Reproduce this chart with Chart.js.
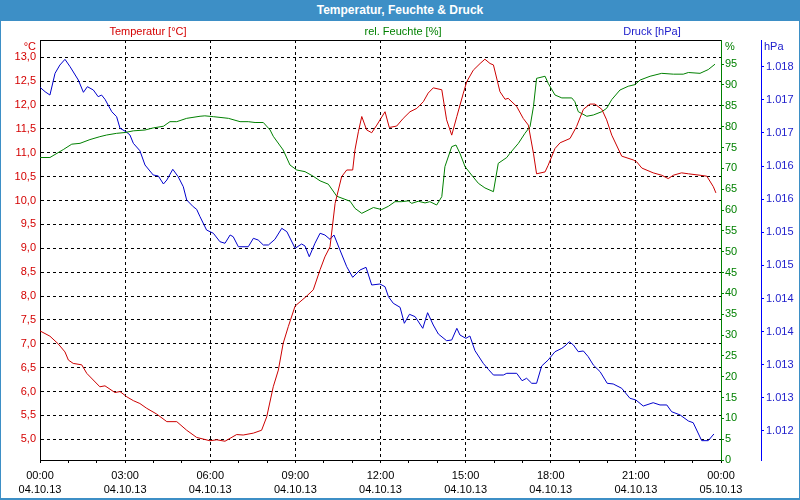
<!DOCTYPE html>
<html>
<head>
<meta charset="utf-8">
<script src="https://cdn.jsdelivr.net/npm/chart.js@4/dist/chart.umd.min.js"></script>
<style>
  body { margin: 0; background: #fff; }
  #wrap { position: relative; width: 800px; height: 500px; overflow: hidden; font-family: "Liberation Sans", Arial, sans-serif; }
  #chart { position: absolute; left: 0; top: 0; }
  #frame { position: absolute; left: 0; top: 0; width: 800px; height: 500px; box-sizing: border-box;
           border: 1px solid #3d8fc6; border-bottom-width: 2px; pointer-events: none; }
  #bar { position: absolute; left: 0; top: 0; width: 800px; height: 21px; background: #3d8fc6;
         color: #fff; font-weight: bold; font-size: 12px; line-height: 21px; text-align: center; }
  .lbl { position: absolute; font-size: 11px; line-height: 13px; white-space: nowrap; }
  .c { transform: translateX(-50%); }
</style>
</head>
<body>
<div id="wrap">
  <canvas id="chart" width="800" height="500"></canvas>
  <div id="bar">Temperatur, Feuchte &amp; Druck</div>
  <div class="lbl c" style="left:148px;top:25px;color:#d40000">Temperatur [°C]</div>
  <div class="lbl c" style="left:403px;top:25px;color:#008000">rel. Feuchte [%]</div>
  <div class="lbl c" style="left:652px;top:25px;color:#2020cc">Druck [hPa]</div>
  <div class="lbl" style="right:764px;top:40px;color:#d40000">°C</div>
  <div class="lbl" style="left:725px;top:40px;color:#008000">%</div>
  <div class="lbl" style="left:764px;top:40px;color:#2020cc">hPa</div>
  <div id="frame"></div>
</div>
<script>
// time in hours since 04.10.13 00:00
const tempTimes = [0.00, 0.35, 0.64, 0.88, 1.00, 1.17, 1.47, 1.65, 2.11, 2.29, 2.64, 2.82, 3.06, 3.29, 3.52, 3.76,
  4.11, 4.47, 4.82, 5.17, 5.52, 5.99, 6.23, 6.52, 6.93, 7.16, 7.52, 7.81, 7.99, 8.22, 8.40, 8.57, 8.75, 8.99,
  9.40, 9.63, 9.87, 10.04, 10.22, 10.40, 10.63, 10.81, 11.02, 11.10, 11.22, 11.34, 11.51, 11.69, 11.87, 12.16,
  12.31, 12.57, 12.80, 13.04, 13.28, 13.51, 13.68, 13.86, 14.16, 14.33, 14.51, 14.69, 14.92, 15.04, 15.27,
  15.51, 15.68, 15.86, 15.98, 16.21, 16.39, 16.50, 16.80, 17.03, 17.21, 17.39, 17.50, 17.80, 17.91, 18.15,
  18.33, 18.68, 18.91, 19.15, 19.38, 19.56, 19.80, 19.97, 20.15, 20.50, 20.91, 21.03, 21.21, 21.61, 21.91,
  22.14, 22.32, 22.61, 22.85, 23.26, 23.50, 23.73, 23.82];
const tempValues = [7.27, 7.16, 7.00, 6.83, 6.66, 6.59, 6.56, 6.38, 6.10, 6.12, 5.98, 6.00, 5.89, 5.81, 5.75, 5.65,
  5.53, 5.37, 5.37, 5.19, 5.04, 4.97, 4.99, 4.96, 5.10, 5.09, 5.13, 5.19, 5.47, 6.10, 6.45, 7.01, 7.36, 7.79,
  8.00, 8.13, 8.55, 8.82, 9.03, 9.94, 10.50, 10.64, 10.64, 11.06, 11.44, 11.76, 11.48, 11.42, 11.58, 11.86,
  11.53, 11.56, 11.72, 11.86, 11.93, 12.07, 12.25, 12.36, 12.32, 11.69, 11.37, 11.76, 12.25, 12.49, 12.73,
  12.87, 12.96, 12.87, 12.84, 12.28, 12.12, 12.14, 11.97, 11.72, 11.58, 10.99, 10.56, 10.60, 10.74, 11.09,
  11.21, 11.30, 11.55, 11.91, 12.02, 12.02, 11.91, 11.69, 11.37, 10.93, 10.85, 10.81, 10.68, 10.58, 10.53,
  10.46, 10.53, 10.58, 10.56, 10.53, 10.51, 10.29, 10.16];

const humTimes = [0.00, 0.35, 0.82, 1.12, 1.41, 1.76, 2.11, 2.35, 2.70, 3.00, 3.29, 3.70, 3.99, 4.35, 4.58, 4.82,
  5.17, 5.64, 5.81, 6.11, 6.64, 7.05, 7.34, 7.58, 7.87, 8.11, 8.22, 8.57, 8.81, 9.05, 9.34, 9.63, 9.87, 10.16,
  10.46, 10.93, 11.10, 11.34, 11.75, 12.04, 12.28, 12.51, 12.75, 12.98, 13.10, 13.33, 13.57, 13.74, 13.98,
  14.16, 14.27, 14.51, 14.66, 14.80, 14.98, 15.21, 15.45, 15.68, 15.98, 16.15, 16.45, 16.56, 16.86, 17.09,
  17.27, 17.39, 17.50, 17.80, 17.91, 18.15, 18.39, 18.74, 18.85, 18.97, 19.27, 19.50, 19.80, 19.97, 20.15,
  20.44, 20.73, 20.97, 21.15, 21.50, 21.91, 22.32, 22.67, 22.85, 23.26, 23.55, 23.79];
const humValues = [72.6, 72.6, 74.5, 75.8, 76.0, 76.9, 77.6, 78.0, 78.4, 78.6, 79.0, 79.2, 79.7, 80.1, 81.2, 81.2,
  82.0, 82.5, 82.6, 82.4, 82.0, 81.2, 81.2, 81.0, 81.0, 79.2, 77.7, 74.4, 70.8, 69.6, 69.2, 68.1, 67.0, 66.2,
  63.3, 62.1, 60.4, 59.2, 60.6, 60.1, 60.9, 62.0, 62.0, 62.2, 61.6, 62.1, 61.7, 62.0, 61.2,
  63.2, 70.4, 75.2, 75.6, 73.6, 70.4, 68.4, 66.4, 65.3, 64.4, 71.2, 72.6, 73.6, 76.0, 78.4,
  80.0, 84.8, 91.6, 92.1, 90.4, 87.6, 86.9, 86.9, 86.0, 83.6, 82.5, 82.8, 83.6, 84.4, 86.5,
  88.8, 89.7, 90.1, 91.2, 92.1, 92.8, 92.6, 92.6, 93.0, 92.8, 93.7, 95.0];

const pressTimes = [0.00, 0.18, 0.35, 0.53, 0.70, 0.88, 1.06, 1.35, 1.53, 1.67, 1.88, 2.05, 2.17, 2.29, 2.53, 2.70,
  2.82, 3.03, 3.17, 3.29, 3.52, 3.70, 3.99, 4.17, 4.35, 4.47, 4.68, 4.87, 5.05, 5.17, 5.40, 5.52, 5.64, 5.87,
  6.11, 6.34, 6.52, 6.70, 6.81, 6.99, 7.34, 7.52, 7.69, 7.87, 8.05, 8.28, 8.52, 8.70, 8.99, 9.22, 9.34, 9.49,
  9.69, 9.87, 10.04, 10.22, 10.36, 10.57, 10.81, 11.02, 11.28, 11.49, 11.69, 11.98, 12.16, 12.28, 12.45, 12.69,
  12.84, 13.02, 13.22, 13.49, 13.66, 13.86, 14.04, 14.33, 14.51, 14.69, 14.80, 15.01, 15.15, 15.33, 15.62,
  15.80, 15.98, 16.33, 16.45, 16.80, 16.99, 17.15, 17.33, 17.50, 17.68, 17.91, 18.15, 18.39, 18.50, 18.65,
  18.80, 18.97, 19.15, 19.32, 19.50, 19.74, 19.99, 20.20, 20.50, 20.79, 21.00, 21.26, 21.61, 21.85, 22.09,
  22.26, 22.56, 22.85, 23.02, 23.32, 23.55, 23.75];
const pressValues = [1.017689, 1.017622, 1.017572, 1.017900, 1.018025, 1.018111, 1.018000, 1.017799, 1.017613,
  1.017698, 1.017648, 1.017547, 1.017572, 1.017508, 1.017320, 1.017245, 1.017070, 1.017019, 1.016969, 1.016843,
  1.016732, 1.016516, 1.016365, 1.016350, 1.016229, 1.016289, 1.016451, 1.016339, 1.016188, 1.015987, 1.015886,
  1.015847, 1.015735, 1.015534, 1.015485, 1.015358, 1.015334, 1.015459, 1.015433, 1.015282, 1.015282, 1.015409,
  1.015383, 1.015308, 1.015308, 1.015394, 1.015560, 1.015509, 1.015258, 1.015323, 1.015293, 1.015131, 1.015334,
  1.015485, 1.015459, 1.015394, 1.015459, 1.015233, 1.014980, 1.014820, 1.014931, 1.014971, 1.014704, 1.014719,
  1.014678, 1.014528, 1.014428, 1.014367, 1.014126, 1.014262, 1.014226, 1.014050, 1.014286, 1.014100, 1.013964,
  1.013863, 1.013874, 1.014050, 1.013949, 1.013899, 1.013934, 1.013712, 1.013522, 1.013431, 1.013345, 1.013345,
  1.013371, 1.013371, 1.013259, 1.013296, 1.013220, 1.013220, 1.013481, 1.013572, 1.013697, 1.013748, 1.013783,
  1.013848, 1.013798, 1.013697, 1.013708, 1.013622, 1.013496, 1.013395, 1.013220, 1.013210, 1.013145, 1.012994,
  1.012968, 1.012877, 1.012927, 1.012893, 1.012893, 1.012791, 1.012742, 1.012651, 1.012625, 1.012354, 1.012354,
  1.012455];

// tick labels
const hourTicks = [0, 1, 2, 3, 4, 5, 6, 7, 8, 9, 10, 11, 12, 13, 14, 15, 16, 17, 18, 19, 20, 21, 22, 23, 24];
const xLabelHours = [0, 3, 6, 9, 12, 15, 18, 21, 24];
const xLabelTimes = ['00:00', '03:00', '06:00', '09:00', '12:00', '15:00', '18:00', '21:00', '00:00'];
const xLabelDates = ['04.10.13', '04.10.13', '04.10.13', '04.10.13', '04.10.13', '04.10.13', '04.10.13', '04.10.13', '05.10.13'];
const tempTicks = [5.0, 5.5, 6.0, 6.5, 7.0, 7.5, 8.0, 8.5, 9.0, 9.5, 10.0, 10.5, 11.0, 11.5, 12.0, 12.5, 13.0];
const humTicks = [0, 5, 10, 15, 20, 25, 30, 35, 40, 45, 50, 55, 60, 65, 70, 75, 80, 85, 90, 95];
const pressTicks = [1.0180, 1.0175, 1.0170, 1.0165, 1.0160, 1.0155, 1.0150, 1.0145, 1.0140, 1.0135, 1.0130, 1.0125];
const pressLabels = ['1.018', '1.017', '1.017', '1.016', '1.016', '1.015', '1.015', '1.014', '1.014', '1.013', '1.013', '1.012'];

const RED = '#cc0000';
const GREEN = '#008000';
const BLUE = '#0000cc';
const tickFont = { family: '"Liberation Sans", Arial, sans-serif', size: 11 };

function toPoints(times, values) {
  return times.map((t, i) => ({ x: t, y: values[i] }));
}

// top border of the plot area
const topBorder = {
  id: 'topBorder',
  afterDraw(chart) {
    const { ctx, chartArea } = chart;
    ctx.save();
    ctx.strokeStyle = '#000';
    ctx.lineWidth = 1;
    ctx.beginPath();
    ctx.moveTo(chartArea.left, Math.round(chartArea.top) + 0.5);
    ctx.lineTo(chartArea.right, Math.round(chartArea.top) + 0.5);
    ctx.stroke();
    ctx.restore();
  }
};

new Chart(document.getElementById('chart'), {
  type: 'line',
  data: {
    datasets: [
      { label: 'Temperatur [°C]', data: toPoints(tempTimes, tempValues), yAxisID: 'yT', borderColor: RED },
      { label: 'rel. Feuchte [%]', data: toPoints(humTimes, humValues), yAxisID: 'yH', borderColor: GREEN },
      { label: 'Druck [hPa]', data: toPoints(pressTimes, pressValues), yAxisID: 'yP', borderColor: BLUE }
    ]
  },
  options: {
    responsive: false,
    animation: false,
    devicePixelRatio: 1,
    layout: { padding: { top: 40, left: 0, right: 0, bottom: 0 } },
    elements: {
      line: { borderWidth: 1, tension: 0 },
      point: { radius: 0 }
    },
    plugins: { legend: { display: false }, tooltip: { enabled: false } },
    scales: {
      x: {
        type: 'linear',
        min: 0,
        max: 24,
        afterBuildTicks: axis => { axis.ticks = hourTicks.map(v => ({ value: v })); },
        afterFit: axis => { axis.height = 40; },
        ticks: {
          autoSkip: false,
          maxRotation: 0,
          color: '#000',
          font: { ...tickFont, lineHeight: 1.3 },
          padding: 6,
          callback: v => {
            const i = xLabelHours.indexOf(v);
            return i < 0 ? '' : [xLabelTimes[i], xLabelDates[i]];
          }
        },
        grid: {
          color: ctx => (ctx.tick && ctx.tick.value % 3 === 0 && ctx.tick.value > 0 && ctx.tick.value < 24) ? '#000' : 'rgba(0,0,0,0)',
          tickColor: '#000',
          tickLength: 3,
          tickBorderDash: []
        },
        border: { color: '#000', width: 1, dash: [3, 3] }
      },
      yT: {
        type: 'linear',
        position: 'left',
        min: 4.567,
        max: 13.362,
        afterBuildTicks: axis => { axis.ticks = tempTicks.map(v => ({ value: v })); },
        afterFit: axis => { axis.width = 40; },
        ticks: {
          color: '#d40000',
          font: tickFont,
          padding: 4,
          callback: v => v.toFixed(1).replace('.', ',')
        },
        grid: { color: '#000', drawTicks: false },
        border: { color: '#000', width: 1, dash: [3, 3] }
      },
      yH: {
        type: 'linear',
        position: 'right',
        weight: 0,
        min: 0,
        max: 100.8,
        afterBuildTicks: axis => { axis.ticks = humTicks.map(v => ({ value: v })); },
        afterFit: axis => { axis.width = 40; },
        ticks: { color: GREEN, font: tickFont, padding: 1 },
        grid: { drawOnChartArea: false, tickColor: GREEN, tickLength: 3 },
        border: { color: GREEN, width: 1 }
      },
      yP: {
        type: 'linear',
        position: 'right',
        weight: 1,
        min: 1.012062,
        max: 1.018403,
        afterBuildTicks: axis => { axis.ticks = pressTicks.map(v => ({ value: v })); },
        afterFit: axis => { axis.width = 39; },
        ticks: {
          color: '#2020cc',
          font: tickFont,
          padding: 2,
          callback: (v, i) => pressLabels[i]
        },
        grid: { drawOnChartArea: false, tickColor: '#0000ff', tickLength: 3 },
        border: { color: '#0000ff', width: 1 }
      }
    }
  },
  plugins: [topBorder]
});
</script>
</body>
</html>
